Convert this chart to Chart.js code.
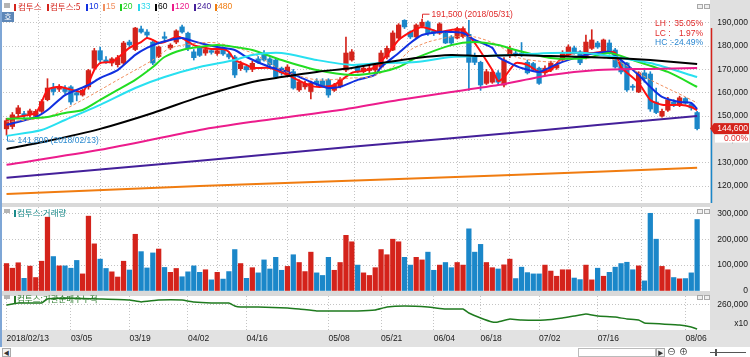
<!DOCTYPE html>
<html><head><meta charset="utf-8">
<script src="https://cdn.jsdelivr.net/npm/chart.js@4.4.1/dist/chart.umd.min.js"></script>
<style>
*{box-sizing:border-box}
html,body{margin:0;padding:0;background:#fff;}
#wrap{position:relative;width:750px;height:357px;overflow:hidden;background:#fff;font-family:"Noto Sans CJK KR","Liberation Sans",sans-serif;}
.a{position:absolute;}
canvas{position:absolute;left:0;}
.t{position:absolute;white-space:nowrap;font-size:8.5px;line-height:10px;}
.n{font-family:"Liberation Sans",Arial,sans-serif;}
.mk{position:absolute;width:2px;height:7px;}
.ic{position:absolute;width:6px;height:5px;border:1px solid #a8a8a8;background:#efefef;}
</style></head><body>
<div id="wrap">
  <div class="a" style="left:710px;top:0;width:40px;height:347px;background:#e0e0e0"></div>
  <div class="a" style="left:0;top:330px;width:750px;height:17px;background:#e2e2e2"></div>
  <div class="a" style="left:0;top:203px;width:710px;height:4px;background:#d9d9d9"></div>
  <div class="a" style="left:0;top:291px;width:710px;height:5px;background:#d9d9d9"></div>
  <div class="a" style="left:0;top:0;width:2px;height:347px;background:#7ea6d6"></div>

  <canvas id="cP" width="750" height="205" style="top:0"></canvas>
  <canvas id="cV" width="750" height="88" style="top:205px"></canvas>
  <canvas id="cI" width="750" height="64" style="top:293px"></canvas>

  <!-- price legend -->
  <div class="a" style="left:4px;top:3px;width:6px;height:5px;background:#b4b4b4"></div>
  <div class="mk" style="left:14px;top:4px;background:#d4231b"></div><div class="t" style="left:18px;top:1px;color:#d4231b">컴투스</div>
  <div class="mk" style="left:47px;top:4px;background:#d4231b"></div><div class="t" style="left:50px;top:1px;color:#d4231b">컴투스:5</div>
  <div class="mk" style="left:86px;top:4px;background:#1030e0"></div><div class="t n" style="left:89px;top:1px;color:#1030e0">10</div>
  <div class="mk" style="left:103px;top:4px;background:#f09060"></div><div class="t n" style="left:106px;top:1px;color:#f09060">15</div>
  <div class="mk" style="left:120px;top:4px;background:#22d022"></div><div class="t n" style="left:123px;top:1px;color:#22d022">20</div>
  <div class="mk" style="left:138px;top:4px;background:#28d8ec"></div><div class="t n" style="left:141px;top:1px;color:#28d8ec">33</div>
  <div class="mk" style="left:155px;top:4px;background:#000"></div><div class="t n" style="left:158px;top:1px;color:#000">60</div>
  <div class="mk" style="left:172px;top:4px;background:#ec1c8c"></div><div class="t n" style="left:175px;top:1px;color:#ec1c8c">120</div>
  <div class="mk" style="left:194px;top:4px;background:#44209a"></div><div class="t n" style="left:197px;top:1px;color:#44209a">240</div>
  <div class="mk" style="left:215px;top:4px;background:#f07c10"></div><div class="t n" style="left:218px;top:1px;color:#f07c10">480</div>
  <div class="a" style="left:2px;top:12px;width:12px;height:10px;background:#5d87b8;color:#fff;font-size:8px;line-height:10px;text-align:center">호</div>
  <div class="ic" style="left:697px;top:4px"></div><div class="ic" style="left:704px;top:4px"></div>

  <div class="t n" style="left:655px;top:18px;color:#e02a2a">LH :</div><div class="t n" style="right:47px;top:18px;color:#e02a2a">35.05%</div>
  <div class="t n" style="left:655px;top:28px;color:#e02a2a">LC :</div><div class="t n" style="right:47px;top:28px;color:#e02a2a">1.97%</div>
  <div class="t n" style="left:655px;top:37px;color:#2a86d0">HC :</div><div class="t n" style="right:47px;top:37px;color:#2a86d0">-24.49%</div>

  <!-- volume legend -->
  <div class="a" style="left:4px;top:209px;width:6px;height:4px;background:#b4b4b4"></div>
  <div class="mk" style="left:14px;top:210px;background:#1a8a8a"></div><div class="t" style="left:17px;top:207px;color:#1a8a8a">컴투스:거래량</div>
  <div class="ic" style="left:697px;top:209px"></div><div class="ic" style="left:704px;top:209px"></div>

  <!-- indicator legend -->
  <div class="a" style="left:4px;top:295px;width:6px;height:4px;background:#b4b4b4"></div>
  <div class="mk" style="left:14px;top:296px;background:#2a7a2a"></div><div class="t" style="left:17px;top:293px;color:#2a7a2a">컴투스:기관순매수누적</div>
  <div class="ic" style="left:697px;top:295px"></div><div class="ic" style="left:704px;top:295px"></div>

  <!-- bottom scroll row -->
  <div class="a" style="left:2px;top:348px;width:9px;height:9px;border:1px solid #aaa;background:#f2f2f2;font-size:6px;line-height:7px;text-align:center;color:#333">◀</div>
  <div class="a" style="left:578px;top:348px;width:78px;height:9px;border:1px solid #bbb;background:#fff"></div>
  <div class="a" style="left:656px;top:348px;width:9px;height:9px;border:1px solid #aaa;background:#f2f2f2;font-size:6px;line-height:7px;text-align:center;color:#333">▶</div>
  <div class="t" style="left:667px;top:347px;font-size:9px;color:#333">⊖</div>
  <div class="t" style="left:679px;top:347px;font-size:9px;color:#333">⊕</div>
  <div class="a" style="left:710px;top:352px;width:36px;height:1px;background:#555"></div>
  <div class="a" style="left:715px;top:349px;width:2px;height:7px;background:#555"></div>
</div>
<script>
// ---------- DATA (prices in thousand won, volume in thousand shares) ----------
const tickIdx    = [0, 11, 21, 31, 41, 55, 64, 73, 81, 91, 101, 116];
const tickLabels = ['2018/02/13','03/05','03/19','04/02','04/16','05/08','05/21','06/04','06/18','07/02','07/16','08/06'];

const opens  = [144.5,145.5,151.0,151.0,150.5,150.0,152.0,157.0,162.0,161.5,162.0,162.5,160.0,159.0,162.5,170.5,178.0,174.0,172.7,172.0,
                172.7,181.7,178.5,187.3,186.0,181.7,175.5,184.0,179.2,181.7,188.2,185.5,177.5,179.0,177.0,178.0,176.8,178.8,176.6,175.3,
                170.3,171.2,170.0,174.5,176.5,174.5,174.0,170.5,167.6,169.0,161.2,162.5,160.5,165.0,165.0,165.5,161.0,162.5,169.7,174.0,
                171.0,169.0,169.5,169.7,171.0,175.3,178.3,183.4,191.0,186.0,183.9,188.5,190.3,186.5,185.5,185.5,183.9,183.4,184.0,185.0,
                176.0,173.0,164.0,164.5,168.5,163.3,176.0,177.0,177.0,173.0,172.5,170.5,168.5,169.7,170.6,174.0,176.2,179.2,177.5,174.9,
                179.0,181.3,177.0,181.3,178.3,173.2,172.7,162.8,160.3,168.5,168.0,156.0,150.0,152.5,156.0,154.5,157.5,155.0,151.5];
const highs  = [149.0,151.5,154.5,152.0,153.0,152.8,157.0,166.0,164.0,163.5,163.0,163.0,161.0,161.5,170.0,179.0,179.5,175.5,175.0,176.0,
                182.0,182.5,188.0,188.5,187.0,182.0,180.0,186.0,181.0,187.0,189.0,186.0,178.5,180.0,179.5,178.8,178.8,179.5,177.5,176.0,
                173.5,172.0,173.5,175.5,178.0,175.0,174.5,171.0,172.0,170.0,165.5,165.0,165.0,166.0,166.0,166.0,164.0,166.5,183.8,178.5,
                172.0,171.5,171.5,172.5,178.0,180.0,186.5,189.6,191.3,186.5,189.5,191.5,190.8,187.0,190.0,186.0,184.5,188.0,188.2,191.0,
                177.0,173.5,170.0,170.0,169.5,175.0,180.0,178.0,181.5,174.0,173.0,171.0,171.5,173.5,172.5,178.0,180.5,180.0,178.0,184.7,
                187.0,182.0,183.0,182.6,179.0,174.0,173.0,163.5,169.0,170.5,169.0,162.0,153.0,158.0,157.0,158.5,158.0,155.5,152.0];
const lows   = [141.8,144.5,150.0,149.0,149.5,149.5,151.5,156.5,159.0,160.5,159.5,155.0,156.5,158.5,161.5,170.0,173.0,172.5,171.5,171.0,
                172.0,179.5,178.0,185.5,183.5,172.0,175.0,182.0,178.5,181.0,185.5,178.0,174.0,175.5,176.0,176.5,176.0,176.0,174.5,166.5,
                169.5,168.8,169.0,172.5,173.5,171.0,166.0,167.5,167.0,161.5,160.5,161.5,157.3,163.0,162.5,158.0,160.5,162.0,169.0,173.5,
                168.5,168.5,168.5,169.0,170.5,174.5,178.0,183.0,187.5,183.2,183.5,187.8,184.5,184.5,185.0,181.0,180.5,183.0,183.5,161.0,
                172.0,161.0,163.5,164.0,163.5,162.5,175.0,175.5,175.5,168.0,169.0,163.5,167.5,169.0,170.0,173.5,175.5,176.5,172.0,174.5,
                178.5,179.0,176.5,176.5,170.5,168.0,160.5,161.0,160.0,164.5,152.0,151.0,149.5,152.0,154.0,154.0,155.0,152.5,144.0];
const closes = [148.0,150.5,153.5,150.2,152.2,152.0,156.2,162.0,160.5,162.5,160.5,156.0,159.0,161.0,169.5,178.0,174.0,173.2,174.5,175.0,
                181.3,180.5,187.7,186.0,184.7,172.7,179.6,183.3,180.4,186.5,186.0,179.0,175.0,176.0,178.5,177.3,178.0,176.6,175.3,167.6,
                172.3,169.8,172.6,173.0,174.0,172.0,166.7,168.5,171.0,162.0,164.6,164.0,164.2,163.7,163.0,159.0,163.3,165.5,177.0,177.5,
                169.0,170.5,170.5,171.9,177.0,179.0,185.6,189.0,188.2,183.9,189.0,190.2,185.5,185.5,189.5,181.3,181.3,187.5,187.5,173.0,
                173.0,163.3,169.0,168.8,164.5,174.0,179.0,176.2,176.0,168.5,170.0,164.0,170.5,172.7,171.9,177.0,179.6,177.0,172.8,181.7,
                182.6,179.6,182.6,177.0,171.0,168.9,161.2,162.3,168.5,166.0,153.0,151.5,152.0,157.0,154.5,157.8,155.5,153.5,144.6];
const volumes = [106,88,109,49,96,52,115,285,133,97,97,88,118,66,289,182,123,87,74,54,
                 115,81,219,152,89,147,162,91,72,87,55,74,97,72,82,43,72,46,75,160,
                 106,49,90,70,120,85,130,80,95,140,110,75,150,70,60,130,80,110,215,190,
                 100,70,60,90,160,140,200,190,130,100,130,120,150,80,100,110,90,110,100,240,
                 150,180,110,90,85,101,123,48,92,71,66,66,100,77,57,82,82,50,44,100,
                 43,88,57,72,92,106,111,82,97,39,300,200,95,82,52,47,48,70,276];

const ma5Idx = [0,2,5,6,7,9,10,12,13,14,15,16,18,19,21,23,24,25,26,27,29,30,32,34,35,37,38,39,41,42,45,48,52,54,56,59,61,63,65,67,69,71,74,76,78,80,83,84,85,87,89,91,93,95,97,100,102,104,105,108,110,112,115,117,118];
const ma5    = [148.3,149.6,151.3,156.0,161.2,162.5,162.0,160.7,160.3,164.2,169.7,172.7,173.2,174.9,179.2,181.7,183.4,182.6,181.3,181.7,183.9,183.4,180.4,179.2,178.7,178.7,177.5,174.0,171.9,170.6,170.6,167.6,162.9,162.5,163.3,168.5,169.3,171.0,176.2,182.6,186.0,188.2,186.0,186.9,186.9,181.3,169.7,165.0,166.5,172.7,171.9,168.9,169.7,175.3,177.0,177.0,177.5,177.0,171.0,164.2,156.9,154.8,154.8,153.9,152.5];
const ma10Idx = [0,5,7,10,14,16,19,22,24,26,28,30,33,36,39,41,45,48,52,55,57,60,63,64,67,69,71,74,76,78,80,83,84,86,88,91,93,95,99,101,103,105,108,110,112,115,117,118];
const ma10    = [146.2,149.6,152.6,159.0,163.3,166.3,169.7,176.2,179.2,181.3,182.6,183.4,181.3,179.6,178.3,175.3,171.0,168.9,164.6,162.0,162.5,165.5,167.6,171.0,177.0,181.3,184.7,186.0,186.0,185.6,182.6,179.2,175.3,172.7,170.6,168.9,171.0,173.2,176.2,177.0,177.5,174.0,167.6,162.5,158.2,156.0,155.6,153.0];
const ma15Idx = [0,7,13,19,25,28,33,36,42,47,53,59,62,66,69,72,76,80,84,87,93,99,104,110,116,118];
const ma15    = [147.5,149.6,156.9,165.5,174.0,179.2,181.3,181.3,177.0,169.7,165.5,166.3,166.7,171.0,178.3,181.7,183.9,183.9,180.4,175.3,173.2,175.3,174.0,165.5,158.2,155.6];
const ma20Idx = [0,5,7,10,13,16,19,22,25,27,30,33,36,39,42,47,53,59,64,67,70,76,80,84,87,93,99,103,107,113,118];
const ma20    = [148.8,149.2,149.6,151.3,152.6,156.9,161.2,165.5,171.0,175.3,178.3,179.6,180.4,179.6,178.3,174.0,169.7,167.6,168.9,171.0,174.9,180.4,181.7,180.4,178.3,174.9,174.9,177.0,174.0,168.9,162.5];
const ma33Idx = [0,6,10,16,22,27,33,39,42,47,53,59,64,70,76,81,87,93,99,104,110,118];
const ma33    = [141.5,144.0,148.3,154.8,162.0,166.7,171.0,174.0,176.2,177.0,174.0,171.9,172.7,173.2,175.3,175.7,176.2,177.0,177.0,175.3,172.7,166.7];
const ma60Idx = [0,7,16,25,33,42,47,53,59,64,70,76,81,87,93,99,104,110,118];
const ma60    = [135.9,139.3,144.5,151.3,158.2,164.6,166.7,168.9,170.6,172.7,174.9,176.2,175.7,176.2,175.7,175.3,174.9,174.0,172.3];
const ma120Idx = [0,16,33,42,57,67,76,84,93,101,110,118];
const ma120    = [129.1,135.5,144.0,147.5,152.6,156.9,160.3,163.3,167.6,169.7,170.2,170.6];
const ma240Idx = [0,33,59,92,101,118];
const ma240    = [123.5,130.8,136.8,144.0,146.2,150.0];
const ma480Idx = [0,33,67,101,118];
const ma480    = [116.6,120.0,123.0,126.1,127.8];

const instIdx = [0,2,6,7,10,16,21,23,26,30,32,35,38,39,40,43,48,50,53,56,60,63,65,68,72,75,78,79,81,83,84,86,88,92,95,97,99,101,104,106,108,109,112,115,117,118];
const inst    = [260000,264000,264000,272000,274000,272000,270000,266000,270000,270000,266000,264000,264000,258000,256000,256000,254000,252000,248000,248000,248000,250000,256000,258000,256000,252000,252000,244000,234000,226000,226000,232000,230000,230000,234000,238000,242000,238000,236000,232000,230000,224000,222000,220000,216000,212000];

const priceTicks = [120,130,140,150,160,170,180,190];
const volTicks   = [0,100,200,300];
const instTicks  = [222000,260000];
const hiDate = '2018/05/31', loDate = '2018/02/13';
const changePct = '0.00%';
const rangeBarTop = 187.7;

// ---------- helpers ----------
const RED = '#d4231b', BLUE = '#1b87c9';
const idx = closes.map((_, i) => i);
const col = idx.map(i => closes[i] >= opens[i] ? RED : BLUE);
const X_MIN = -0.6, X_MAX = 120.2;
const FONT = {family:'"Liberation Sans", Arial, sans-serif', size:8.5};
const fmt = v => Math.round(v).toLocaleString('en-US');
const pts = (ix, vals) => ix.map((x, k) => ({x, y: vals[k]}));

function xAxis(show){
  return {
    type:'linear', min:X_MIN, max:X_MAX, offset:false,
    afterBuildTicks: s => { s.ticks = tickIdx.map(v => ({value:v})); },
    afterFit: s => { s.height = show ? 17 : 0; s.paddingLeft = 0; s.paddingRight = 0; s.paddingTop = 0; s.paddingBottom = 0; },
    grid:{display:true, color:'#c4c4c4', lineWidth:1, drawTicks:false},
    border:{display:false, dash:[1,2]},
    ticks:{display:show, autoSkip:false, maxRotation:0, minRotation:0, align:'start', padding:4,
           color:'#1a1a1a', font:FONT, callback:(v,i) => tickLabels[i]}
  };
}
function yAxis(min, max, ticks, cb, gridColor){
  return {
    type:'linear', position:'right', min, max,
    afterBuildTicks: s => { s.ticks = ticks.map(v => ({value:v})); },
    afterFit: s => { s.width = 38; s.paddingTop = 0; s.paddingBottom = 0; s.paddingLeft = 0; s.paddingRight = 0; },
    grid:{color: gridColor || '#c4c4c4', drawTicks:false},
    border:{display:false, dash:[1,2]},
    ticks:{crossAlign:'far', padding:7, color:'#1a1a1a', font:FONT, callback:cb}
  };
}
const baseOpts = (pad) => ({
  responsive:false, animation:false, devicePixelRatio:1,
  layout:{padding:pad},
  plugins:{legend:{display:false}, tooltip:{enabled:false}}
});
const line = (ix, vals, color, w, extra) => Object.assign({
  type:'line', data:pts(ix, vals), borderColor:color, borderWidth:w, pointRadius:0,
  tension:0.25, fill:false, order:0
}, extra || {});

// ---------- annotations plugin (price panel) ----------
const annot = {
  id:'annot',
  afterDraw(chart){
    const {ctx, chartArea, scales:{x, y}} = chart;
    ctx.save();
    ctx.font = '8.5px "Liberation Sans", Arial, sans-serif';
    ctx.textBaseline = 'middle';
    let hi = 0; highs.forEach((v,i) => { if (v > highs[hi]) hi = i; });
    const hx = Math.round(x.getPixelForValue(hi)) + 0.5, hy = y.getPixelForValue(highs[hi]);
    ctx.strokeStyle = '#e02a2a'; ctx.lineWidth = 1;
    ctx.beginPath(); ctx.moveTo(hx, hy - 1); ctx.lineTo(hx, hy - 5); ctx.lineTo(hx + 7, hy - 5); ctx.stroke();
    ctx.fillStyle = '#e02a2a';
    ctx.fillText(fmt(highs[hi]*1000) + ' (' + hiDate + ')', hx + 9, hy - 5);
    let lo = 0; lows.forEach((v,i) => { if (v < lows[lo]) lo = i; });
    const lx = Math.round(x.getPixelForValue(lo)) + 0.5, ly = y.getPixelForValue(lows[lo]);
    ctx.strokeStyle = '#2a8ad0';
    ctx.beginPath(); ctx.moveTo(lx, ly + 1); ctx.lineTo(lx, ly + 6); ctx.lineTo(lx + 7, ly + 6); ctx.stroke();
    ctx.fillStyle = '#2a8ad0';
    ctx.fillText(fmt(lows[lo]*1000) + ' (' + loDate + ')', lx + 10, ly + 6);
    const last = closes[closes.length - 1];
    const cy = y.getPixelForValue(last);
    const R = chartArea.right;
    ctx.lineWidth = 1.5;
    ctx.strokeStyle = '#d4231b';
    ctx.beginPath(); ctx.moveTo(R + 1.5, y.getPixelForValue(rangeBarTop)); ctx.lineTo(R + 1.5, cy); ctx.stroke();
    ctx.strokeStyle = '#1b87c9';
    ctx.beginPath(); ctx.moveTo(R + 1.5, cy); ctx.lineTo(R + 1.5, chartArea.bottom); ctx.stroke();
    ctx.fillStyle = '#d4231b';
    ctx.beginPath(); ctx.moveTo(R, cy); ctx.lineTo(R + 4, cy - 5.5); ctx.lineTo(R + 4, cy + 5.5); ctx.closePath(); ctx.fill();
    ctx.fillRect(R + 4, cy - 5.5, 35, 11);
    ctx.fillStyle = '#fff';
    ctx.textAlign = 'right';
    ctx.fillText(fmt(last*1000), R + 38, cy + 0.5);
    ctx.fillRect(R + 5, cy + 6, 34, 8);
    ctx.fillStyle = '#e02a2a';
    ctx.fillText(changePct, R + 38, cy + 10.5);
    ctx.restore();
  }
};

// ---------- price chart ----------
new Chart(document.getElementById('cP'), {
  type:'bar',
  data:{datasets:[
    line(ma480Idx, ma480, '#f07c10', 2),
    line(ma240Idx, ma240, '#44209a', 2),
    line(ma120Idx, ma120, '#ec1c8c', 2),
    line(ma60Idx, ma60, '#000000', 2),
    line(ma33Idx, ma33, '#28e0f0', 2),
    line(ma20Idx, ma20, '#22dd22', 2),
    line(ma15Idx, ma15, '#f09060', 1, {borderDash:[3,2]}),
    line(ma10Idx, ma10, '#1030e0', 2, {tension:0.2}),
    line(ma5Idx, ma5, '#ff1010', 2, {tension:0.2}),
    {type:'bar', data: idx.map(i => ({x:i, y:[lows[i], highs[i]]})), backgroundColor: col,
     barThickness:1, grouped:false, order:2},
    {type:'bar', data: idx.map(i => ({x:i, y:[opens[i], closes[i]]})), backgroundColor: col,
     barThickness:4.6, grouped:false, minBarLength:1, order:1}
  ]},
  options: Object.assign(baseOpts({left:3, right:2, top:2, bottom:2}), {
    scales:{ x: xAxis(false), y: yAxis(112.72, 198.87, priceTicks, v => fmt(v*1000)) }
  }),
  plugins:[annot]
});

// ---------- volume chart ----------
new Chart(document.getElementById('cV'), {
  type:'bar',
  data:{datasets:[
    {data: idx.map(i => ({x:i, y:volumes[i]})), backgroundColor: col, barThickness:4.6, grouped:false}
  ]},
  options: Object.assign(baseOpts({left:3, right:2, top:2, bottom:2}), {
    scales:{ x: xAxis(false),
             y: yAxis(0, 324.3, volTicks, v => fmt(v*1000), c => c.tick && c.tick.value === 0 ? 'rgba(0,0,0,0)' : '#c4c4c4') }
  })
});

// ---------- institutional net-buy cumulative ----------
new Chart(document.getElementById('cI'), {
  type:'line',
  data:{datasets:[ line(instIdx, inst, '#1e7a1e', 1.5, {tension:0.1}) ]},
  options: Object.assign(baseOpts({left:3, right:2, top:3, bottom:10}), {
    scales:{ x: xAxis(true),
             y: yAxis(210000, 278000, instTicks, v => v === instTicks[0] ? 'x10' : fmt(v),
                      c => c.tick && c.tick.value === instTicks[0] ? 'rgba(0,0,0,0)' : '#c4c4c4') }
  })
});
</script>
</body></html>
